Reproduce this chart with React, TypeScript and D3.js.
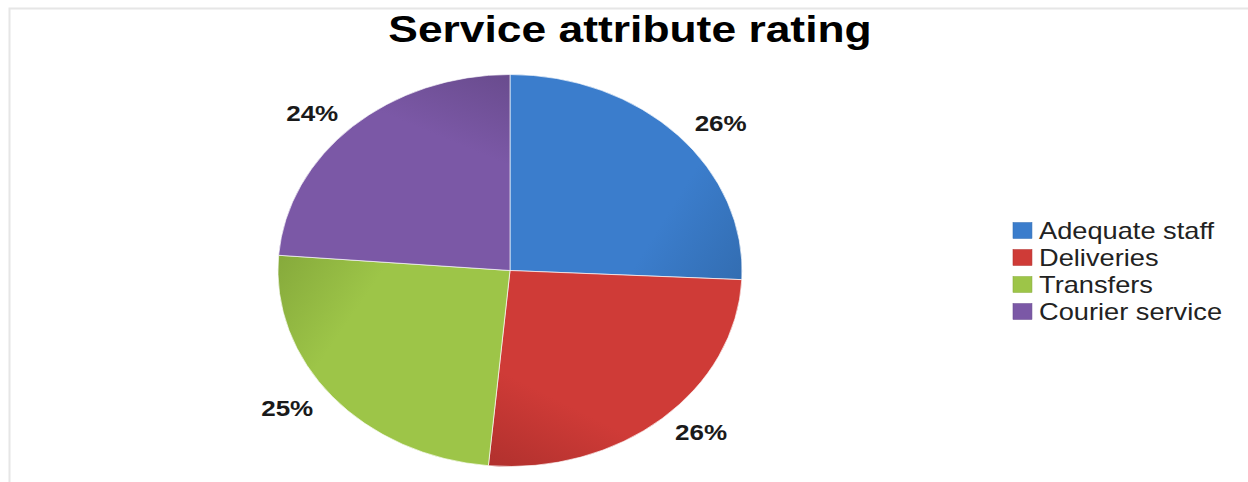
import React from "react";
import * as d3 from "d3";

const categories = ["Adequate staff", "Deliveries", "Transfers", "Courier service"];
const values = [26, 26, 25, 24];
const colors = ["#3b7dcc", "#cf3b37", "#9dc548", "#7b58a6"];
const darkColors = ["#336eb3", "#b2312e", "#87ab3c", "#6a4c8f"];
const title = "Service attribute rating";

const W = 1248;
const H = 482;
const SX = 1.184; // horizontal stretch of the whole chart
const CX = 510 / SX;
const CY = 270.5;
const R = 196;
const LABEL_RX = 246;
const LABEL_RY = 214;

export default function App() {
  const total = d3.sum(values);
  const pie = d3.pie<number>().sort(null).value((d) => d)(values);
  const arc = d3.arc<d3.PieArcDatum<number>>().innerRadius(0).outerRadius(R);
  const fmt = (v: number) => `${Math.round((v / total) * 100)}%`;
  const pt = (a: number, r: number) => [Math.sin(a) * r, -Math.cos(a) * r];

  return (
    <svg
      width={W}
      height={H}
      style={{ position: "absolute", left: 0, top: 0, background: "#fff" }}
    >
      <rect x={9.5} y={8.5} width={W} height={H} fill="none" stroke="#e6e6e6" strokeWidth={2} />
      <g transform={`scale(${SX},1)`}>
        <defs>
          {pie.map((s, i) => {
            const [x1, y1] = pt(s.startAngle + 0.15, R * 0.5);
            const [x2, y2] = pt(s.endAngle - 0.05, R);
            return (
              <linearGradient
                key={i}
                id={`g${i}`}
                gradientUnits="userSpaceOnUse"
                x1={x1}
                y1={y1}
                x2={x2}
                y2={y2}
              >
                <stop offset="0" stopColor={colors[i]} />
                <stop offset="0.6" stopColor={colors[i]} />
                <stop offset="1" stopColor={darkColors[i]} />
              </linearGradient>
            );
          })}
        </defs>
        <text
          x={630 / SX}
          y={42}
          textAnchor="middle"
          fontFamily="'Liberation Sans', Arial, sans-serif"
          fontWeight="bold"
          fontSize={37.5}
          fill="#000"
        >
          {title}
        </text>
        <g transform={`translate(${CX},${CY})`}>
          {pie.map((s, i) => (
            <path key={i} d={arc(s) || ""} fill={`url(#g${i})`} stroke="#ffffff" strokeWidth={0.6} />
          ))}
          {pie.map((s, i) => {
            const mid = (s.startAngle + s.endAngle) / 2;
            const x = Math.sin(mid) * LABEL_RX;
            const y = -Math.cos(mid) * LABEL_RY;
            return (
              <text
                key={i}
                x={x}
                y={y}
                dy="0.36em"
                textAnchor="middle"
                fontFamily="'Liberation Sans', Arial, sans-serif"
                fontWeight="bold"
                fontSize={22}
                fill="#1a1a1a"
              >
                {fmt(s.data)}
              </text>
            );
          })}
        </g>
        <g transform={`translate(${1013 / SX},231)`}>
          {categories.map((c, i) => (
            <g key={c} transform={`translate(0,${i * 27})`}>
              <rect x={0} y={-8.5} width={16} height={16} fill={colors[i]} stroke={darkColors[i]} strokeWidth={0.5} />
              <text
                x={22}
                y={0}
                dy="0.36em"
                fontFamily="'Liberation Sans', Arial, sans-serif"
                fontSize={23}
                fill="#222"
              >
                {c}
              </text>
            </g>
          ))}
        </g>
      </g>
    </svg>
  );
}
